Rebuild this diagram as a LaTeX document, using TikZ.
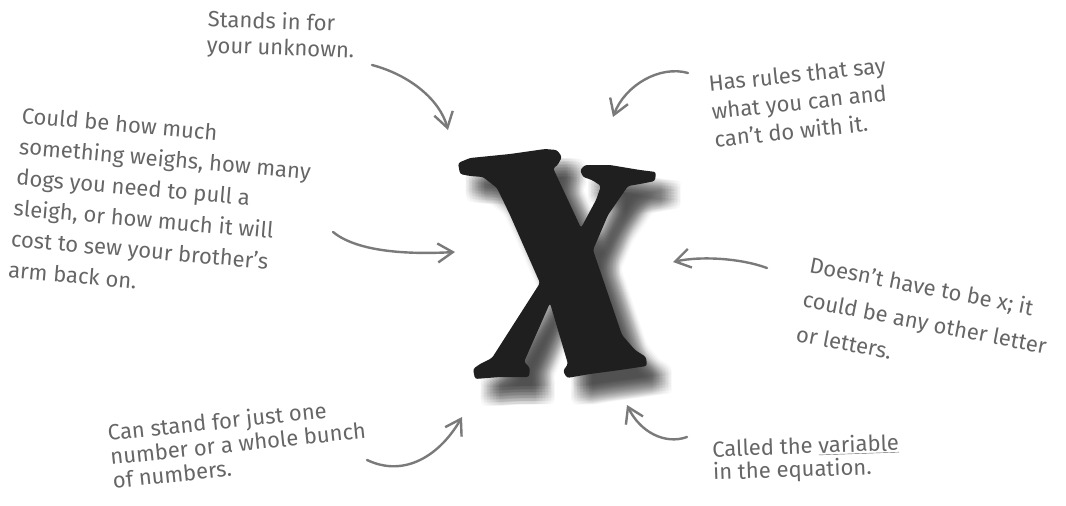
\documentclass[tikz,border=0pt]{standalone}
\usepackage{fontspec}
\setmainfont{Fira Sans}
\usetikzlibrary{arrows.meta}

\tikzset{
  % the hand-cut slab letter, in sheet pixels
  slab/.pic={
    \path[pic actions,rounded corners=2.5pt]
      (458,163) -- (470,158) -- (510,154) -- (545,149) -- (557,150) -- (562,157) -- (557,166)
      -- (553,168) -- (581,228)
      -- (596,200) -- (601,186) -- (592,180) -- (583,177) -- (580,170) -- (585,165)
      -- (610,165) -- (640,170) -- (656,172) -- (655,181) -- (640,184) -- (628,186)
      -- (608,215) -- (593,250)
      -- (622,335) -- (635,350) -- (646,357) -- (647,366) -- (620,370) -- (590,374)
      -- (567,378) -- (563,371) -- (568,364)
      -- (550,303)
      -- (524,362) -- (530,368) -- (529,377) -- (500,377) -- (475,379) -- (473,369)
      -- (480,364) -- (492,358)
      -- (540,283)
      -- (510,215) -- (497,188) -- (483,177) -- (470,176) -- (460,174) -- cycle;
  }
}

\begin{document}
\begin{tikzpicture}[
    x=1pt, y=-1pt,          % 1 unit = 1 px of the sheet, y runs downwards
    >={Straight Barb[length=15pt,width=19pt]},
    note/.style={text=inkG,align=left,inner sep=0pt,font=\fontsize{22}{#1}\selectfont},
    hint/.style={->,draw=lineG,line width=2.4pt,line cap=round,line join=round},
  ]
  \definecolor{inkG}{RGB}{102,102,102}
  \definecolor{lineG}{RGB}{122,122,122}
  \useasboundingbox (0,0) rectangle (1066,506);

  %% ---------------- the letter ----------------
  % soft shadow: many faint copies, offset down and right
  \foreach \dx in {7,10,...,25}{\foreach \dy in {9,12,...,27}{
      \pic[fill=black,opacity=0.022] at (\dx,\dy) {slab};}}
  \pic[fill=black!88] at (0,0) {slab};

  %% ---------------- notes ----------------
  \node[note=26,rotate=-2] (unknown) at (281,36) {Stands in for\\your unknown.};
  \node[note=31,rotate=-5] (weighs) at (161,205)
    {Could be how much\\something weighs, how many\\dogs you need to pull a\\sleigh, or how much it will\\cost to sew your brother's\\arm back on.};
  \node[note=28,rotate=6] (rules) at (800,102) {Has rules that say\\what you can and\\can't do with it.};
  \node[note=35,rotate=-11] (letter) at (925,322) {Doesn't have to be x; it\\could be any other letter\\or letters.};
  \node[note=24,rotate=6] (bunch) at (238,443) {Can stand for just one\\number or a whole bunch\\of numbers.};
  \node[note=23,rotate=2] (called) at (806,459) {Called the \underline{variable}\\in the equation.};

  %% ---------------- arrows ----------------
  \coordinate (a1) at (372,65);  \coordinate (b1) at (448,130);
  \coordinate (a2) at (333,232); \coordinate (b2) at (455,252);
  \coordinate (a3) at (688,73);  \coordinate (b3) at (613,117);
  \coordinate (a4) at (767,268); \coordinate (b4) at (673,262);
  \coordinate (a5) at (367,460); \coordinate (b5) at (462,417);
  \coordinate (a6) at (687,437); \coordinate (b6) at (627,405);
  \draw[hint] (a1) .. controls (410,75) and (440,100) .. (b1);
  \draw[hint] (a2) .. controls (355,250) and (400,255) .. (b2);
  \draw[hint] (a3) .. controls (660,65) and (625,85) .. (b3);
  \draw[hint] (a4) .. controls (740,258) and (700,256) .. (b4);
  \draw[hint] (a5) .. controls (405,478) and (440,455) .. (b5);
  \draw[hint] (a6) .. controls (665,445) and (640,432) .. (b6);
\end{tikzpicture}
\end{document}
